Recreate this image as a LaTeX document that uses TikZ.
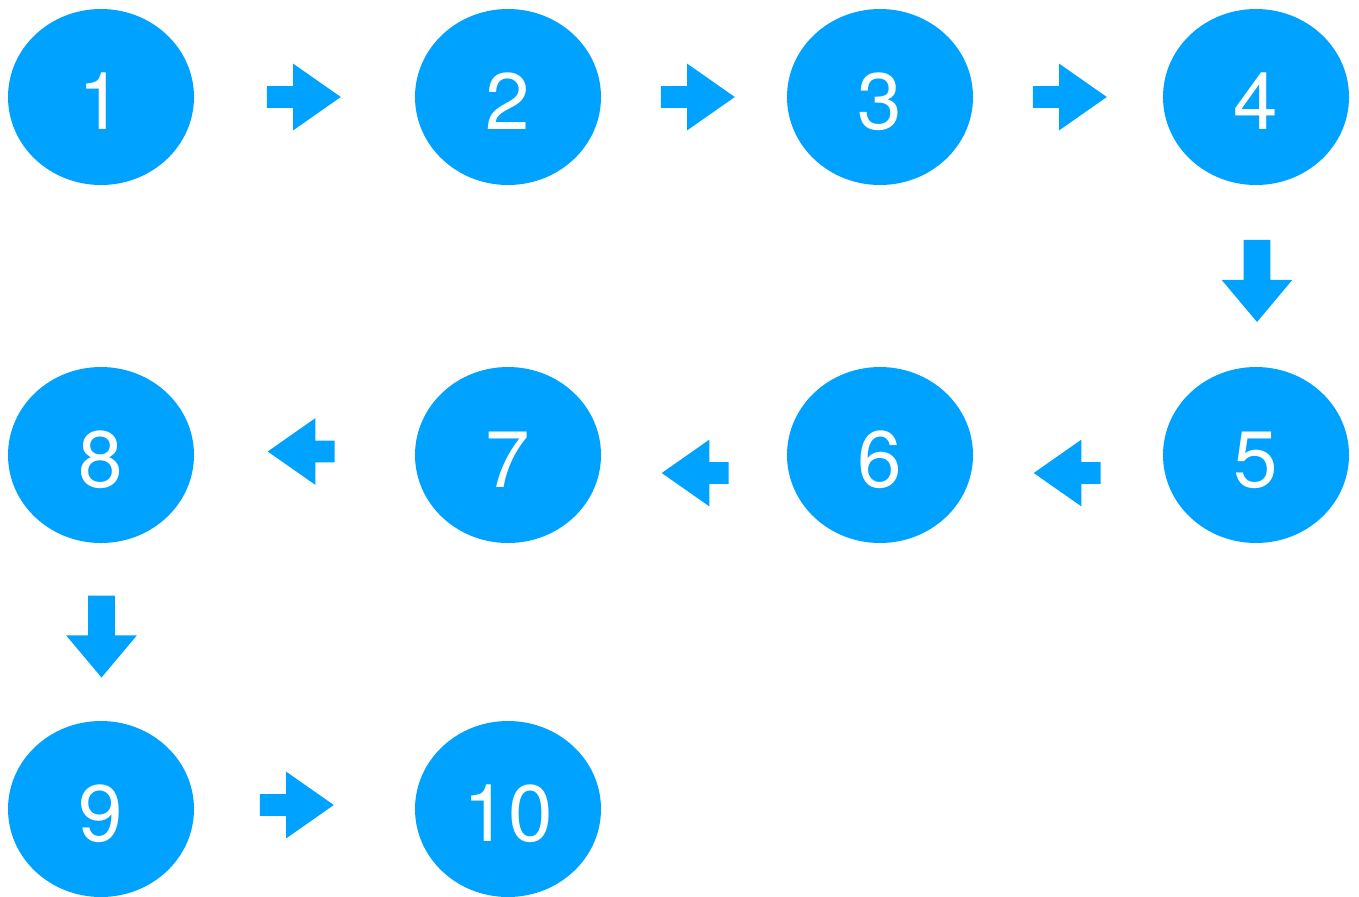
\documentclass[tikz,border=0pt]{standalone}
\usepackage{fontspec}
\setmainfont{TeX Gyre Heros}
\usepackage{tikz}
\usetikzlibrary{shapes.geometric, shapes.arrows}
\definecolor{sky}{HTML}{00A2FF}

\begin{document}
\begin{tikzpicture}[
    x=0.5pt, y=-0.5pt,
    bubble/.style={ellipse, fill=sky, text=white, minimum width=93pt,
        minimum height=88pt, inner sep=0pt, text height=32.4pt, text depth=0pt,
        font=\fontsize{40}{40}\selectfont},
    blk/.style={single arrow, fill=sky, inner xsep=0pt, inner ysep=5.25pt,
        minimum height=37pt, minimum width=33pt, single arrow head extend=11.25pt,
        single arrow tip angle=70},
    blkback/.style={blk, rotate=180, minimum height=33.5pt},
    blkdown/.style={blk, rotate=270, minimum height=41pt, minimum width=35pt,
        inner ysep=6.5pt, single arrow head extend=11pt, single arrow tip angle=80},
  ]
  \useasboundingbox (0,0) rectangle (1359,896);
  % first row
  \node[bubble] (n1) at (101,97) {1};
  \node[bubble] (n2) at (508,97) {2};
  \node[bubble] (n3) at (880,97) {3};
  \node[bubble] (n4) at (1256,97) {4};
  \node[blk] (a12) at (296,97) {};
  \node[blk] (a23) at (690,97) {};
  \node[blk] (a34) at (1062,97) {};
  \node[blkdown] (a45) at (1257,273) {};
  % second row, right to left
  \node[bubble] (n5) at (1256,455) {5};
  \node[bubble] (n6) at (880,455) {6};
  \node[bubble] (n7) at (508,455) {7};
  \node[bubble] (n8) at (101,455) {8};
  \node[blkback] (a56) at (1075,473) {};
  \node[blkback] (a67) at (703,473) {};
  \node[blkback] (a78) at (309,451.5) {};
  \node[blkdown] (a89) at (101.5,628.5) {};
  % last row
  \node[bubble] (n9) at (101,809) {9};
  \node[bubble] (n10) at (508,809) {10};
  \node[blk] (a910) at (289,805) {};
\end{tikzpicture}
\end{document}
